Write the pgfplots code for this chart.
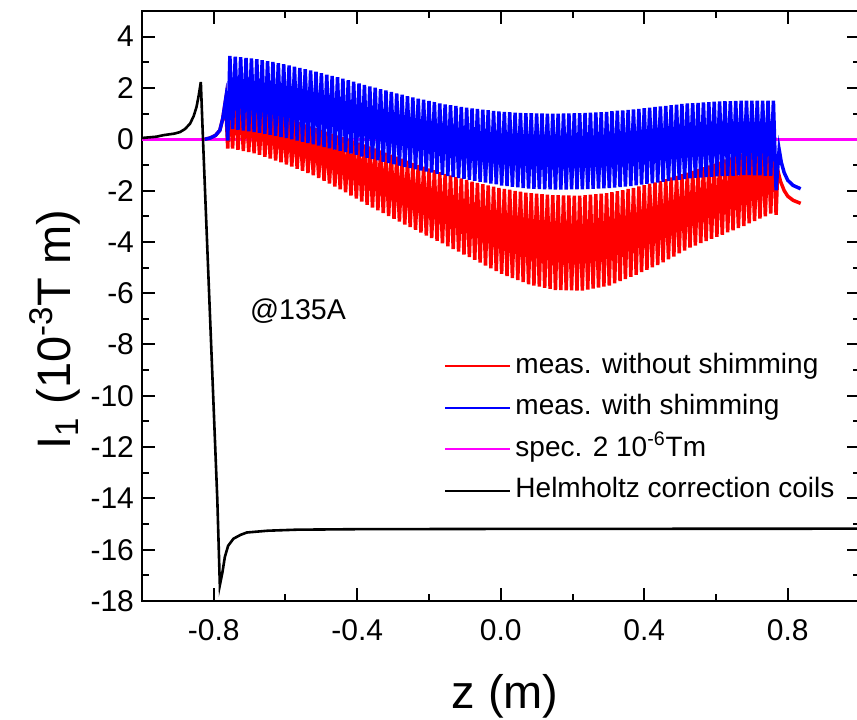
\documentclass[border=0pt]{standalone}
\usepackage{fontspec}
\setmainfont{Liberation Sans}
\usepackage{pgfplots}
\pgfplotsset{compat=1.18}
\definecolor{cRed}{RGB}{255,0,0}
\definecolor{cBlue}{RGB}{0,0,255}
\definecolor{cMag}{RGB}{255,0,255}
\begin{document}
\begin{tikzpicture}
\begin{axis}[
 name=ax,
 scale only axis,
 width=358.75pt, height=295pt,
 xmin=-1, xmax=1, ymin=-18, ymax=5,
 axis line style={line width=1pt},
 every tick/.style={black, line width=1pt},
 tick align=inside,
 major tick length=6.5pt, minor tick length=3.5pt,
 xtick={-0.8,-0.4,0,0.4,0.8},
 xticklabels={-0.8,-0.4,0.0,0.4,0.8},
 minor xtick={-0.6,-0.2,0.2,0.6},
 ytick={-18,-16,-14,-12,-10,-8,-6,-4,-2,0,2,4},
 yticklabels={-18,-16,-14,-12,-10,-8,-6,-4,-2,0,2,4},
 minor ytick={-17,-15,-13,-11,-9,-7,-5,-3,-1,1,3,5},
 tick label style={font=\fontsize{15}{17}\selectfont},
 xticklabel style={yshift=-5.5pt},
 yticklabel style={xshift=-0.5pt},
 xlabel={z (m)},
 ylabel={I\textsubscript{1} (10\textsuperscript{-3}T m)},
 label style={font=\fontsize{23.5}{26}\selectfont},
 xlabel style={at={(axis description cs:0.506,-0.162)}, anchor=center},
 ylabel style={at={(axis description cs:-0.1213,0.46)}, anchor=center},
 legend image code/.code={\draw[#1] (0pt,0pt) -- (32.5pt,0pt);},
 legend style={at={(axis description cs:0.421,0.434)}, anchor=north west, draw=none, fill=none, inner sep=0pt, row sep=0pt,
   font=\fontsize{14}{16}\selectfont, cells={anchor=west},
   nodes={text height=10.5pt, text depth=3.5pt, inner ysep=3.4pt}},
]
\addplot[cMag, line width=1.25pt, forget plot] coordinates {(-1,0) (1,0)};
\addplot[cRed, line width=1.75pt, forget plot] coordinates {
(-0.825,0) (-0.81,0.05) (-0.795,0.15) (-0.783,0.35) (-0.775,0.8) (-0.767,1.5) (-0.761,-0.36)
(-0.755,1.80) (-0.7475,-0.36)
(-0.740,1.70) (-0.7325,-0.41)
(-0.725,1.60) (-0.7175,-0.46)
(-0.710,1.50) (-0.7025,-0.50)
(-0.695,1.40) (-0.6875,-0.55)
(-0.680,1.30) (-0.6725,-0.60)
(-0.665,1.22) (-0.6575,-0.68)
(-0.650,1.14) (-0.6425,-0.75)
(-0.635,1.06) (-0.6275,-0.83)
(-0.620,0.98) (-0.6125,-0.90)
(-0.605,0.90) (-0.5975,-0.98)
(-0.590,0.82) (-0.5825,-1.06)
(-0.575,0.74) (-0.5675,-1.15)
(-0.560,0.66) (-0.5525,-1.23)
(-0.545,0.58) (-0.5375,-1.32)
(-0.530,0.50) (-0.5225,-1.40)
(-0.515,0.43) (-0.5075,-1.51)
(-0.500,0.36) (-0.4925,-1.62)
(-0.485,0.29) (-0.4775,-1.73)
(-0.470,0.22) (-0.4625,-1.84)
(-0.455,0.15) (-0.4475,-1.95)
(-0.440,0.08) (-0.4325,-2.07)
(-0.425,0.01) (-0.4175,-2.19)
(-0.410,-0.06) (-0.4025,-2.31)
(-0.395,-0.13) (-0.3875,-2.43)
(-0.380,-0.20) (-0.3725,-2.55)
(-0.365,-0.28) (-0.3575,-2.66)
(-0.350,-0.36) (-0.3425,-2.77)
(-0.335,-0.44) (-0.3275,-2.88)
(-0.320,-0.52) (-0.3125,-2.99)
(-0.305,-0.60) (-0.2975,-3.10)
(-0.290,-0.68) (-0.2825,-3.21)
(-0.275,-0.76) (-0.2675,-3.32)
(-0.260,-0.84) (-0.2525,-3.42)
(-0.245,-0.92) (-0.2375,-3.53)
(-0.230,-1.00) (-0.2225,-3.64)
(-0.215,-1.07) (-0.2075,-3.75)
(-0.200,-1.14) (-0.1925,-3.85)
(-0.185,-1.21) (-0.1775,-3.96)
(-0.170,-1.28) (-0.1625,-4.06)
(-0.155,-1.35) (-0.1475,-4.17)
(-0.140,-1.41) (-0.1325,-4.28)
(-0.125,-1.47) (-0.1175,-4.38)
(-0.110,-1.53) (-0.1025,-4.49)
(-0.095,-1.59) (-0.0875,-4.59)
(-0.080,-1.65) (-0.0725,-4.70)
(-0.065,-1.70) (-0.0575,-4.81)
(-0.050,-1.75) (-0.0425,-4.92)
(-0.035,-1.80) (-0.0275,-5.03)
(-0.020,-1.85) (-0.0125,-5.14)
(-0.005,-1.90) (0.0025,-5.25)
(0.010,-1.94) (0.0175,-5.33)
(0.025,-1.97) (0.0325,-5.41)
(0.040,-2.01) (0.0475,-5.49)
(0.055,-2.04) (0.0625,-5.57)
(0.070,-2.08) (0.0775,-5.65)
(0.085,-2.10) (0.0925,-5.70)
(0.100,-2.12) (0.1075,-5.74)
(0.115,-2.14) (0.1225,-5.79)
(0.130,-2.16) (0.1375,-5.83)
(0.145,-2.18) (0.1525,-5.88)
(0.160,-2.18) (0.1675,-5.88)
(0.175,-2.19) (0.1825,-5.89)
(0.190,-2.19) (0.1975,-5.89)
(0.205,-2.20) (0.2125,-5.90)
(0.220,-2.20) (0.2275,-5.90)
(0.235,-2.18) (0.2425,-5.86)
(0.250,-2.16) (0.2575,-5.82)
(0.265,-2.14) (0.2725,-5.78)
(0.280,-2.12) (0.2875,-5.74)
(0.295,-2.10) (0.3025,-5.70)
(0.310,-2.06) (0.3175,-5.62)
(0.325,-2.02) (0.3325,-5.53)
(0.340,-1.98) (0.3475,-5.45)
(0.355,-1.94) (0.3625,-5.36)
(0.370,-1.90) (0.3775,-5.28)
(0.385,-1.84) (0.3925,-5.18)
(0.400,-1.79) (0.4075,-5.09)
(0.415,-1.73) (0.4225,-4.99)
(0.430,-1.68) (0.4375,-4.90)
(0.445,-1.62) (0.4525,-4.80)
(0.460,-1.56) (0.4675,-4.68)
(0.475,-1.49) (0.4825,-4.57)
(0.490,-1.43) (0.4975,-4.45)
(0.505,-1.36) (0.5125,-4.34)
(0.520,-1.30) (0.5275,-4.22)
(0.535,-1.23) (0.5425,-4.14)
(0.550,-1.16) (0.5575,-4.05)
(0.565,-1.09) (0.5725,-3.97)
(0.580,-1.02) (0.5875,-3.88)
(0.595,-0.95) (0.6025,-3.80)
(0.610,-0.87) (0.6175,-3.72)
(0.625,-0.79) (0.6325,-3.63)
(0.640,-0.71) (0.6475,-3.55)
(0.655,-0.63) (0.6625,-3.46)
(0.670,-0.55) (0.6775,-3.38)
(0.685,-0.46) (0.6925,-3.28)
(0.700,-0.37) (0.7075,-3.19)
(0.715,-0.28) (0.7225,-3.09)
(0.730,-0.19) (0.7375,-3.00)
(0.745,-0.10) (0.7525,-2.90)
(0.760,0.00) (0.7675,-2.95)
(0.772,-1.20) (0.780,-1.65) (0.790,-2.00) (0.800,-2.22) (0.815,-2.38) (0.836,-2.50)
};
\addplot[cBlue, line width=1.75pt, forget plot] coordinates {
(-0.825,0) (-0.81,0.05) (-0.795,0.15) (-0.783,0.35) (-0.775,0.8) (-0.767,1.55) (-0.761,-0.05)
(-0.755,3.25) (-0.7475,0.40)
(-0.740,3.22) (-0.7325,0.37)
(-0.725,3.20) (-0.7175,0.34)
(-0.710,3.17) (-0.7025,0.31)
(-0.695,3.15) (-0.6875,0.28)
(-0.680,3.12) (-0.6725,0.25)
(-0.665,3.08) (-0.6575,0.21)
(-0.650,3.04) (-0.6425,0.17)
(-0.635,3.01) (-0.6275,0.13)
(-0.620,2.97) (-0.6125,0.09)
(-0.605,2.93) (-0.5975,0.05)
(-0.590,2.88) (-0.5825,0.00)
(-0.575,2.83) (-0.5675,-0.05)
(-0.560,2.78) (-0.5525,-0.10)
(-0.545,2.73) (-0.5375,-0.15)
(-0.530,2.68) (-0.5225,-0.20)
(-0.515,2.63) (-0.5075,-0.25)
(-0.500,2.58) (-0.4925,-0.30)
(-0.485,2.52) (-0.4775,-0.35)
(-0.470,2.47) (-0.4625,-0.40)
(-0.455,2.42) (-0.4475,-0.45)
(-0.440,2.36) (-0.4325,-0.50)
(-0.425,2.30) (-0.4175,-0.56)
(-0.410,2.24) (-0.4025,-0.61)
(-0.395,2.18) (-0.3875,-0.67)
(-0.380,2.12) (-0.3725,-0.72)
(-0.365,2.06) (-0.3575,-0.77)
(-0.350,2.01) (-0.3425,-0.82)
(-0.335,1.95) (-0.3275,-0.88)
(-0.320,1.90) (-0.3125,-0.93)
(-0.305,1.84) (-0.2975,-0.98)
(-0.290,1.79) (-0.2825,-1.03)
(-0.275,1.74) (-0.2675,-1.08)
(-0.260,1.68) (-0.2525,-1.12)
(-0.245,1.63) (-0.2375,-1.17)
(-0.230,1.58) (-0.2225,-1.22)
(-0.215,1.54) (-0.2075,-1.26)
(-0.200,1.49) (-0.1925,-1.30)
(-0.185,1.45) (-0.1775,-1.35)
(-0.170,1.40) (-0.1625,-1.39)
(-0.155,1.36) (-0.1475,-1.43)
(-0.140,1.33) (-0.1325,-1.47)
(-0.125,1.30) (-0.1175,-1.51)
(-0.110,1.26) (-0.1025,-1.54)
(-0.095,1.23) (-0.0875,-1.58)
(-0.080,1.20) (-0.0725,-1.62)
(-0.065,1.18) (-0.0575,-1.66)
(-0.050,1.15) (-0.0425,-1.69)
(-0.035,1.13) (-0.0275,-1.73)
(-0.020,1.10) (-0.0125,-1.76)
(-0.005,1.08) (0.0025,-1.80)
(0.010,1.07) (0.0175,-1.82)
(0.025,1.06) (0.0325,-1.85)
(0.040,1.04) (0.0475,-1.87)
(0.055,1.03) (0.0625,-1.90)
(0.070,1.02) (0.0775,-1.92)
(0.085,1.02) (0.0925,-1.93)
(0.100,1.01) (0.1075,-1.94)
(0.115,1.01) (0.1225,-1.95)
(0.130,1.00) (0.1375,-1.95)
(0.145,1.00) (0.1525,-1.96)
(0.160,1.00) (0.1675,-1.96)
(0.175,1.01) (0.1825,-1.96)
(0.190,1.01) (0.1975,-1.95)
(0.205,1.02) (0.2125,-1.95)
(0.220,1.02) (0.2275,-1.95)
(0.235,1.03) (0.2425,-1.94)
(0.250,1.04) (0.2575,-1.93)
(0.265,1.05) (0.2725,-1.92)
(0.280,1.06) (0.2875,-1.91)
(0.295,1.07) (0.3025,-1.90)
(0.310,1.09) (0.3175,-1.88)
(0.325,1.11) (0.3325,-1.86)
(0.340,1.12) (0.3475,-1.84)
(0.355,1.14) (0.3625,-1.82)
(0.370,1.16) (0.3775,-1.80)
(0.385,1.18) (0.3925,-1.77)
(0.400,1.21) (0.4075,-1.74)
(0.415,1.23) (0.4225,-1.72)
(0.430,1.26) (0.4375,-1.69)
(0.445,1.28) (0.4525,-1.66)
(0.460,1.30) (0.4675,-1.63)
(0.475,1.33) (0.4825,-1.60)
(0.490,1.35) (0.4975,-1.58)
(0.505,1.38) (0.5125,-1.55)
(0.520,1.40) (0.5275,-1.52)
(0.535,1.41) (0.5425,-1.50)
(0.550,1.42) (0.5575,-1.49)
(0.565,1.44) (0.5725,-1.47)
(0.580,1.45) (0.5875,-1.46)
(0.595,1.46) (0.6025,-1.44)
(0.610,1.47) (0.6175,-1.43)
(0.625,1.48) (0.6325,-1.42)
(0.640,1.48) (0.6475,-1.42)
(0.655,1.49) (0.6625,-1.41)
(0.670,1.50) (0.6775,-1.40)
(0.685,1.50) (0.6925,-1.40)
(0.700,1.50) (0.7075,-1.41)
(0.715,1.50) (0.7225,-1.41)
(0.730,1.50) (0.7375,-1.42)
(0.745,1.50) (0.7525,-1.42)
(0.760,1.50) (0.7675,-1.99)
(0.776,-0.40) (0.782,-0.90) (0.790,-1.30) (0.800,-1.60) (0.815,-1.80) (0.836,-1.93)
};
\addplot[black, line width=1.3pt, forget plot] coordinates {
(-1.0,0.05) (-0.96,0.1) (-0.94,0.16) (-0.91,0.22) (-0.894,0.28) (-0.88,0.4) (-0.866,0.61)
(-0.856,0.9) (-0.848,1.26) (-0.842,1.7) (-0.836,2.23) (-0.830,0.0) (-0.790,-14.07)
(-0.783,-17.39) (-0.776,-16.9) (-0.769,-16.28) (-0.76,-15.85) (-0.745,-15.57) (-0.725,-15.42)
(-0.708,-15.33) (-0.65,-15.26) (-0.569,-15.22) (-0.4,-15.2) (0,-15.19) (1.0,-15.18)
};
\addlegendimage{cRed, line width=1pt}
\addlegendentry{meas. without shimming}
\addlegendimage{cBlue, line width=1pt}
\addlegendentry{meas. with shimming}
\addlegendimage{cMag, line width=1pt}
\addlegendentry{spec. 2 10\textsuperscript{-6}Tm}
\addlegendimage{black, line width=1pt}
\addlegendentry{Helmholtz correction coils}
\node[font=\fontsize{14.3}{16}\selectfont] at (axis cs:-0.565,-6.7) {@135A};
\end{axis}
\pgfresetboundingbox
\path[use as bounding box] ([xshift=-71pt,yshift=-59pt]ax.south west) rectangle ([xshift=-1.25pt,yshift=5.5pt]ax.north east);
\end{tikzpicture}
\end{document}
